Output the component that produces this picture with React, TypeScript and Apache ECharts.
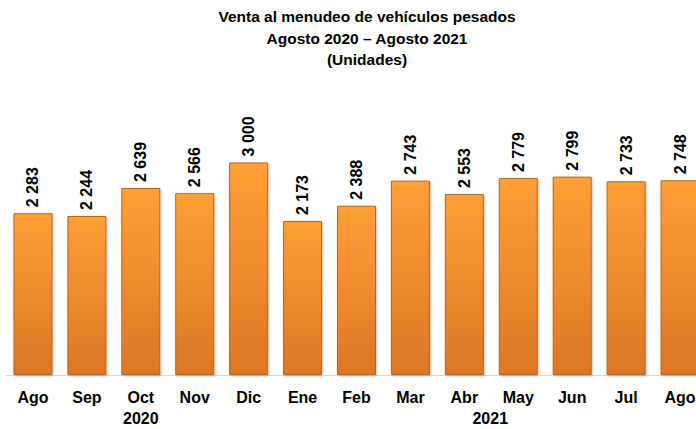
import React, { useEffect, useRef } from "react";
import * as echarts from "echarts";

const categories = ["Ago", "Sep", "Oct", "Nov", "Dic", "Ene", "Feb", "Mar", "Abr", "May", "Jun", "Jul", "Ago"];
const yearLabels: Record<number, string> = { 2: "2020", 9: "2021" };
const values = [2283, 2244, 2639, 2566, 3000, 2173, 2388, 2743, 2553, 2779, 2799, 2733, 2748];
const titleLines = ["Venta al menudeo de vehículos pesados", "Agosto 2020 – Agosto 2021", "(Unidades)"];

const fmt = (v: number) => {
  const s = String(Math.round(v));
  return s.replace(/\B(?=(\d{3})+(?!\d))/g, " ");
};

export default function App() {
  const ref = useRef<HTMLDivElement>(null);
  useEffect(() => {
    if (!ref.current) return;
    const chart = echarts.init(ref.current, null, { renderer: "svg" });
    const font = "Arial, 'Liberation Sans', sans-serif";
    chart.setOption({
      animation: false,
      backgroundColor: "#ffffff",
      graphic: [
        {
          type: "text",
          x: 367,
          y: 6,
          style: {
            text: titleLines.join("\n"),
            align: "center",
            verticalAlign: "top",
            fontFamily: font,
            fontWeight: "bold",
            fontSize: 15.5,
            lineHeight: 21.5,
            fill: "#000",
          },
        },
      ],
      grid: { left: 6, right: 5, top: 127, bottom: 49.5, containLabel: false },
      xAxis: {
        type: "category",
        data: categories,
        axisLine: { show: true, lineStyle: { color: "#D9D9D9", width: 1 } },
        axisTick: { show: false },
        axisLabel: {
          interval: 0,
          margin: 12,
          fontFamily: font,
          fontWeight: "bold",
          fontSize: 16,
          color: "#000",
          lineHeight: 21,
          formatter: (val: string, idx: number) => {
            const y = yearLabels[idx];
            if (!y) return val;
            if (idx === 9) return val + "\n{s|" + y + "}";
            return val + "\n" + y;
          },
          rich: {
            s: {
              fontFamily: font,
              fontWeight: "bold",
              fontSize: 16,
              color: "#000",
              lineHeight: 21,
              padding: [0, 56, 0, 0],
            },
          },
        },
      },
      yAxis: {
        type: "value",
        min: 0,
        max: 3500,
        show: false,
        splitLine: { show: false },
      },
      series: [
        {
          type: "bar",
          data: values,
          barWidth: 39,
          itemStyle: {
            color: new echarts.graphic.LinearGradient(0, 0, 0, 1, [
              { offset: 0, color: "#FFA640" },
              { offset: 0.03, color: "#FF9E36" },
              { offset: 1, color: "#DD7626" },
            ]),
            borderColor: "#B9641E",
            borderWidth: 1,
            shadowColor: "rgba(0,0,0,0.25)",
            shadowBlur: 2,
            shadowOffsetX: 1,
            shadowOffsetY: 1,
          },
          label: {
            show: true,
            position: "top",
            rotate: 90,
            align: "left",
            verticalAlign: "middle",
            distance: 6,
            fontFamily: font,
            fontWeight: "bold",
            fontSize: 16,
            color: "#000",
            formatter: (p: any) => fmt(p.value),
          },
        },
      ],
    });
    return () => chart.dispose();
  }, []);
  return (
    <div style={{ position: "absolute", left: 0, top: 0, width: 696, height: 429, overflow: "hidden", background: "#fff" }}>
      <div ref={ref} style={{ width: 712, height: 429 }} />
    </div>
  );
}
